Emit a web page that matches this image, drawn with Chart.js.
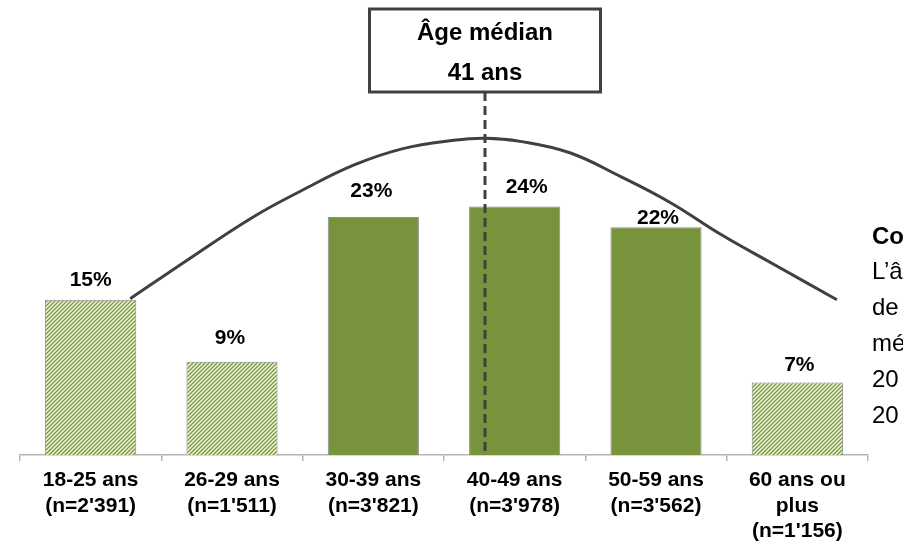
<!DOCTYPE html>
<html lang="fr">
<head>
<meta charset="utf-8">
<script src="https://cdn.jsdelivr.net/npm/chart.js@4.4.1/dist/chart.umd.min.js"></script>
<style>
  html, body { margin: 0; padding: 0; background: #ffffff; }
  #wrap { width: 903px; height: 547px; position: relative; overflow: hidden; }
</style>
</head>
<body>
<div id="wrap"><canvas id="chart" width="903" height="547"></canvas></div>
<script>
// Age groups (tick labels, two or three lines each)
const ageGroups = [
  ['18-25 ans', "(n=2'391)"],
  ['26-29 ans', "(n=1'511)"],
  ['30-39 ans', "(n=3'821)"],
  ['40-49 ans', "(n=3'978)"],
  ['50-59 ans', "(n=3'562)"],
  ['60 ans ou', 'plus', "(n=1'156)"]
];

// Share of respondents per age group, in percent
const shares = [15, 9, 23, 24, 22, 7];

// Median age and its position along the age-group axis (group index units)
const medianAge = 41;
const medianPosition = 2.79;

// Distribution curve drawn over the bars (x: group index, y: percent)
const curveX = [0.28, 0.68, 1.15, 1.50, 1.86, 2.21, 2.57, 2.79, 3.04, 3.39, 3.75, 4.10, 4.46, 4.81, 5.28];
const curveY = [15.1, 18.8, 23.0, 25.6, 28.0, 29.6, 30.4, 30.6, 30.3, 29.2, 26.9, 24.4, 21.3, 18.6, 15.0];

// Side-panel text (runs off the right edge of the page)
const sideTitle = 'Co';
const sideLines = ['L\u2019â', 'de', 'mé', '20', '20'];

// ---- styles ----
const FONT = '"Liberation Sans", Arial, Helvetica, sans-serif';
const GREEN = '#77933c';
const barFill = ['hatch', 'hatch', 'solid', 'solid', 'solid', 'hatch'];
const labelGap = [14, 18, 20, 14, 3, 12];   // px between value label and bar top
const labelShift = [0, -2, -2, 12, 2, 2];   // horizontal nudge of value labels

function makeHatch() {
  const c = document.createElement('canvas');
  c.width = 4; c.height = 4;
  const g = c.getContext('2d');
  g.fillStyle = '#f3f7e8';
  g.fillRect(0, 0, 4, 4);
  g.strokeStyle = '#7a983c';
  g.lineWidth = 1.4;
  g.beginPath();
  g.moveTo(-1, 5); g.lineTo(5, -1);
  g.moveTo(-1, 1); g.lineTo(1, -1);
  g.moveTo(3, 5); g.lineTo(5, 3);
  g.stroke();
  return g.createPattern(c, 'repeat');
}
const hatch = makeHatch();

const overlay = {
  id: 'overlay',
  afterDatasetsDraw(chart) {
    const { ctx, chartArea, scales } = chart;
    const bars = chart.getDatasetMeta(0).data;

    ctx.save();
    // value labels
    ctx.font = 'bold 21px ' + FONT;
    ctx.fillStyle = '#000000';
    ctx.textAlign = 'center';
    ctx.textBaseline = 'alphabetic';
    bars.forEach((bar, i) => {
      ctx.fillText(shares[i] + '%', bar.x + labelShift[i], bar.y - labelGap[i]);
    });

    // median marker: dashed line and box
    const mx = scales.xc.getPixelForValue(medianPosition);
    const boxW = 231, boxH = 83, boxTop = 9;
    ctx.strokeStyle = '#404040';
    ctx.lineWidth = 3;
    ctx.setLineDash([9, 5]);
    ctx.beginPath();
    ctx.moveTo(mx, boxTop + boxH);
    ctx.lineTo(mx, chartArea.bottom);
    ctx.stroke();
    ctx.setLineDash([]);

    ctx.fillStyle = '#ffffff';
    ctx.fillRect(mx - boxW / 2, boxTop, boxW, boxH);
    ctx.lineWidth = 3;
    ctx.strokeStyle = '#404040';
    ctx.strokeRect(mx - boxW / 2, boxTop, boxW, boxH);

    ctx.fillStyle = '#000000';
    ctx.font = 'bold 24px ' + FONT;
    ctx.textBaseline = 'middle';
    ctx.fillText('Âge médian', mx, boxTop + 24);
    ctx.fillText(medianAge + ' ans', mx, boxTop + 64);

    // side panel text
    ctx.textAlign = 'left';
    ctx.font = 'bold 24px ' + FONT;
    ctx.fillText(sideTitle, 872, 237);
    ctx.font = '24px ' + FONT;
    sideLines.forEach((t, i) => ctx.fillText(t, 872, 272 + i * 36));
    ctx.restore();
  }
};

new Chart(document.getElementById('chart'), {
  type: 'bar',
  data: {
    labels: ageGroups,
    datasets: [
      {
        type: 'bar',
        data: shares,
        order: 1,
        grouped: false,
        backgroundColor: barFill.map(f => f === 'hatch' ? hatch : GREEN),
        borderColor: '#8c8c8c',
        borderWidth: 1,
        borderSkipped: 'bottom',
        categoryPercentage: 1,
        barPercentage: 0.645
      },
      {
        type: 'line',
        xAxisID: 'xc',
        order: 0,
        data: curveX.map((x, i) => ({ x, y: curveY[i] })),
        borderColor: '#404040',
        borderWidth: 3,
        pointRadius: 0,
        fill: false,
        tension: 0.4
      }
    ]
  },
  options: {
    responsive: false,
    animation: false,
    layout: { padding: { top: 41, left: 20, right: 35, bottom: 0 } },
    plugins: {
      legend: { display: false },
      tooltip: { enabled: false }
    },
    scales: {
      x: {
        type: 'category',
        offset: true,
        grid: {
          display: true,
          drawOnChartArea: false,
          drawTicks: true,
          tickLength: 6,
          color: '#b5b5b5',
          lineWidth: 1.5,
          offset: true
        },
        border: { display: true, color: '#b5b5b5', width: 1.5 },
        ticks: {
          color: '#000000',
          font: { family: FONT, size: 21, weight: 'bold', lineHeight: 1.2 },
          padding: 7,
          maxRotation: 0,
          autoSkip: false
        },
        afterFit(scale) { scale.height = 92; }
      },
      xc: {
        type: 'linear',
        display: false,
        offset: false,
        grid: { offset: false },
        min: -0.5,
        max: 5.5
      },
      y: {
        display: false,
        min: 0,
        max: 40
      }
    }
  },
  plugins: [overlay]
});
</script>
</body>
</html>
